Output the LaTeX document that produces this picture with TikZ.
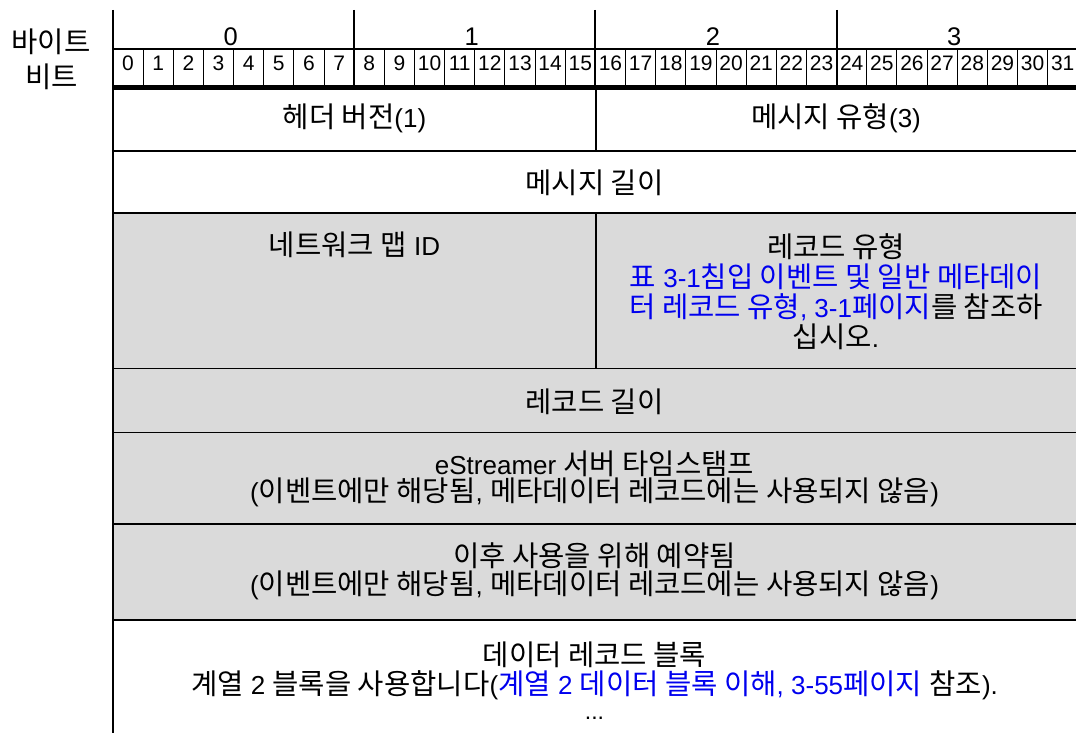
\documentclass[tikz,border=0pt]{standalone}
\usepackage{fontspec}
\setmainfont{Liberation Sans}
\newfontfamily\kr[Scale=1.1]{Noto Sans CJK KR}
\newcommand\K[1]{{\kr #1}}
\definecolor{cellgray}{HTML}{DADADA}
\definecolor{linkblue}{HTML}{0000EE}
\begin{document}
\begin{tikzpicture}[x=1pt,y=-1pt,
  txt/.style={inner sep=0pt, text height=22pt, text depth=1pt, font=\fontsize{26}{30}\selectfont},
  bitnum/.style={inner sep=0pt, font=\fontsize{21}{24}\selectfont},
  bytenum/.style={inner sep=0pt, font=\fontsize{25.5}{30}\selectfont},
  ln1/.style={line width=1pt},
  ln2/.style={line width=2pt},
  ln5/.style={line width=5pt}]
\useasboundingbox (0,0) rectangle (1076,733);
% gray area
\fill[cellgray] (113,213) rectangle (1076,620);
% header lines
\draw[ln2] (113,49) -- (1076,49);
\foreach \i in {1,...,31} {
  \draw[ln1] ({113+\i*30.15},49) -- ({113+\i*30.15},86);
}
\foreach \i in {8,16,24} {
  \draw[ln2] ({113+\i*30.15},10) -- ({113+\i*30.15},86);
}
\draw[ln5] (113,87.5) -- (1076,87.5);
\draw[ln2] (113,10) -- (113,733);
% bit numbers
\foreach \i in {0,...,31} {
  \node[bitnum] (bit\i) at ({113+\i*30.15+15.07},63) {\i};
}
% byte numbers
\node[bytenum] (byte0) at (230.6,37) {0};
\node[bytenum] (byte1) at (471.8,37) {1};
\node[bytenum] (byte2) at (713,37) {2};
\node[bytenum] (byte3) at (954.2,37) {3};
% side labels
\node[txt] (lbyte) at (51,42) {\K{바이트}};
\node[txt] (lbit) at (51.5,77) {\K{비트}};
% row lines
\draw[ln2] (113,151) -- (1076,151);
\draw[ln2] (113,213) -- (1076,213);
\draw[ln1] (113,368) -- (1076,368);
\draw[ln1] (113,432) -- (1076,432);
\draw[ln2] (113,524) -- (1076,524);
\draw[ln2] (113,620) -- (1076,620);
\draw[ln2] (596,90) -- (596,151);
\draw[ln2] (596,213) -- (596,368);
% row texts
\node[txt] (r1a) at (354.5,117) {\K{헤더 버전}(1)};
\node[txt] (r1b) at (836,117) {\K{메시지 유형}(3)};
\node[txt] (r2) at (594.5,183) {\K{메시지 길이}};
\node[txt] (r3a) at (354.5,245) {\K{네트워크 맵} ID};
\node[txt] (r3b1) at (836,247) {\K{레코드 유형}};
\node[txt,text=linkblue] (r3b2) at (836,277) {\K{표} 3-1\K{침입 이벤트 및 일반 메타데이}};
\node[txt] (r3b3) at (836,307) {\textcolor{linkblue}{\K{터 레코드 유형}, 3-1\K{페이지}}\K{를 참조하}};
\node[txt] (r3b4) at (836,337) {\K{십시오}.};
\node[txt] (r4) at (594.5,402) {\K{레코드 길이}};
\node[txt] (r5a) at (594.5,464) {eStreamer \K{서버 타임스탬프}};
\node[txt] (r5b) at (594.5,491) {(\K{이벤트에만 해당됨}, \K{메타데이터 레코드에는 사용되지 않음})};
\node[txt] (r6a) at (594.5,556) {\K{이후 사용을 위해 예약됨}};
\node[txt] (r6b) at (594.5,584) {(\K{이벤트에만 해당됨}, \K{메타데이터 레코드에는 사용되지 않음})};
\node[txt] (r7a) at (594.5,655) {\K{데이터 레코드 블록}};
\node[txt] (r7b) at (594.5,684) {\K{계열} 2 \K{블록을 사용합니다}(\textcolor{linkblue}{\K{계열} 2 \K{데이터 블록 이해}, 3-55\K{페이지}} \K{참조}).};
\node[inner sep=0pt, text height=3pt, text depth=0pt, anchor=south, font=\fontsize{23}{26}\selectfont] (r7c) at (594.5,720) {...};
\end{tikzpicture}
\end{document}
